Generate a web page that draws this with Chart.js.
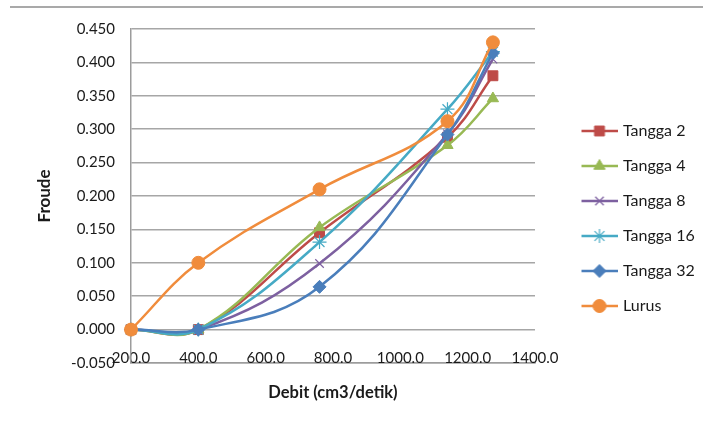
<!DOCTYPE html>
<html>
<head>
<meta charset="utf-8">
<script src="https://cdn.jsdelivr.net/npm/chart.js@4.4.1/dist/chart.umd.min.js"></script>
<style>
  html, body { margin: 0; padding: 0; background: #ffffff; }
  #wrap { width: 703px; height: 428px; }
</style>
</head>
<body>
<div id="wrap"><canvas id="c" width="703" height="428"></canvas></div>
<script>
// Discharge (cm3/s) at which each run was measured
const debit = [200, 400, 760, 1140, 1275];

// Froude number per channel type
const tangga2  = [0, 0, 0.145, 0.288, 0.380];
const tangga4  = [0, 0, 0.153, 0.276, 0.346];
const tangga8  = [0, 0, 0.099, 0.293, 0.405];
const tangga16 = [0, 0, 0.131, 0.330, 0.416];
const tangga32 = [0, 0, 0.064, 0.292, 0.414];
const lurus    = [0, 0.100, 0.210, 0.312, 0.430];

const seriesNames = ['Tangga 2', 'Tangga 4', 'Tangga 8', 'Tangga 16', 'Tangga 32', 'Lurus'];
const seriesValues = [tangga2, tangga4, tangga8, tangga16, tangga32, lurus];
const seriesColors = ['#BE4B48', '#98B954', '#7D60A0', '#46AAC5', '#4A7EBB', '#F08C3C'];
const seriesMarkers = ['rect', 'triangle', 'crossRot', 'star', 'rectRot', 'circle'];
const markerRadius = [7, 6.5, 6, 7, 6.5, 6.5];

const FONT = 'Lato, "Open Sans", "DejaVu Sans", sans-serif';

function toPoints(values) {
  return values.map((v, i) => ({ x: debit[i], y: v }));
}

function thinMarker(style) {
  return style === 'crossRot' || style === 'star';
}

// Legend swatch: a short line with the series marker in the middle
function legendSwatch(i) {
  const cv = document.createElement('canvas');
  cv.width = 66; cv.height = 18;
  const ctx = cv.getContext('2d');
  ctx.strokeStyle = seriesColors[i];
  ctx.lineWidth = 2.5;
  ctx.beginPath();
  ctx.moveTo(30, 9); ctx.lineTo(66, 9);
  ctx.stroke();
  ctx.fillStyle = seriesColors[i];
  ctx.strokeStyle = seriesColors[i];
  ctx.lineWidth = thinMarker(seriesMarkers[i]) ? 1.2 : 1;
  Chart.helpers.drawPoint(ctx, { pointStyle: seriesMarkers[i], radius: markerRadius[i], rotation: 0, borderWidth: ctx.lineWidth }, 48, 9);
  return cv;
}

const datasets = seriesNames.map((name, i) => ({
  label: name,
  data: toPoints(seriesValues[i]),
  borderColor: seriesColors[i],
  backgroundColor: seriesColors[i],
  borderWidth: 2.5,
  tension: 0.4,
  pointStyle: seriesMarkers[i],
  pointRadius: markerRadius[i],
  pointHoverRadius: markerRadius[i],
  pointBorderWidth: thinMarker(seriesMarkers[i]) ? 1.2 : 1,
  pointBorderColor: seriesColors[i],
  pointBackgroundColor: seriesColors[i],
  order: seriesNames.length - i,
  clip: false
}));

// Thin rule across the top of the figure
const topRule = {
  id: 'topRule',
  beforeDraw(chart) {
    const ctx = chart.ctx;
    ctx.save();
    ctx.strokeStyle = '#a9a9a9';
    ctx.lineWidth = 2;
    ctx.beginPath();
    ctx.moveTo(10, 7); ctx.lineTo(703, 7);
    ctx.stroke();
    ctx.restore();
  }
};

new Chart(document.getElementById('c'), {
  type: 'line',
  data: { datasets },
  plugins: [topRule],
  options: {
    responsive: false,
    animation: false,
    events: [],
    layout: { padding: { top: 29, left: 0, right: 0, bottom: 20 } },
    plugins: {
      tooltip: { enabled: false },
      legend: {
        position: 'right',
        align: 'center',
        maxWidth: 168,
        labels: {
          usePointStyle: true,
          pointStyleWidth: 61,
          padding: 19,
          color: '#1a1a1a',
          font: { family: FONT, size: 16 },
          sort: (a, b) => a.datasetIndex - b.datasetIndex,
          generateLabels: () => seriesNames.map((name, i) => ({
            text: name,
            datasetIndex: i,
            pointStyle: legendSwatch(i),
            fillStyle: 'rgba(0,0,0,0)',
            strokeStyle: 'rgba(0,0,0,0)',
            lineWidth: 0,
            fontColor: '#1a1a1a',
            hidden: false
          }))
        }
      }
    },
    scales: {
      x: {
        type: 'linear',
        min: 200,
        max: 1400,
        afterFit: (s) => { s.height = 45; },
        grid: { display: false, drawTicks: false },
        border: { display: true, color: '#9c9c9c', width: 1.5 },
        ticks: {
          stepSize: 200,
          mirror: true,
          padding: -4,
          color: '#1a1a1a',
          font: { family: FONT, size: 15 },
          maxRotation: 0,
          callback: (v) => Number(v).toFixed(1)
        },
        title: {
          display: true,
          text: 'Debit (cm3/detik)',
          color: '#1a1a1a',
          font: { family: FONT, size: 16.5, weight: 'bold' },
          padding: { top: 0, bottom: 5 }
        }
      },
      y: {
        min: -0.05,
        max: 0.45,
        afterFit: (s) => { s.width = 131; },
        grid: { color: '#a6a6a6', lineWidth: 1.5, drawTicks: false },
        border: { display: true, color: '#9c9c9c', width: 1.5 },
        ticks: {
          stepSize: 0.05,
          padding: 16,
          color: '#1a1a1a',
          font: { family: FONT, size: 15 },
          callback: (v) => Number(v).toFixed(3)
        },
        title: {
          display: true,
          text: 'Froude',
          color: '#1a1a1a',
          font: { family: FONT, size: 17, weight: 'bold' },
          padding: { top: 34, bottom: 0 }
        }
      }
    }
  }
});
</script>
</body>
</html>
